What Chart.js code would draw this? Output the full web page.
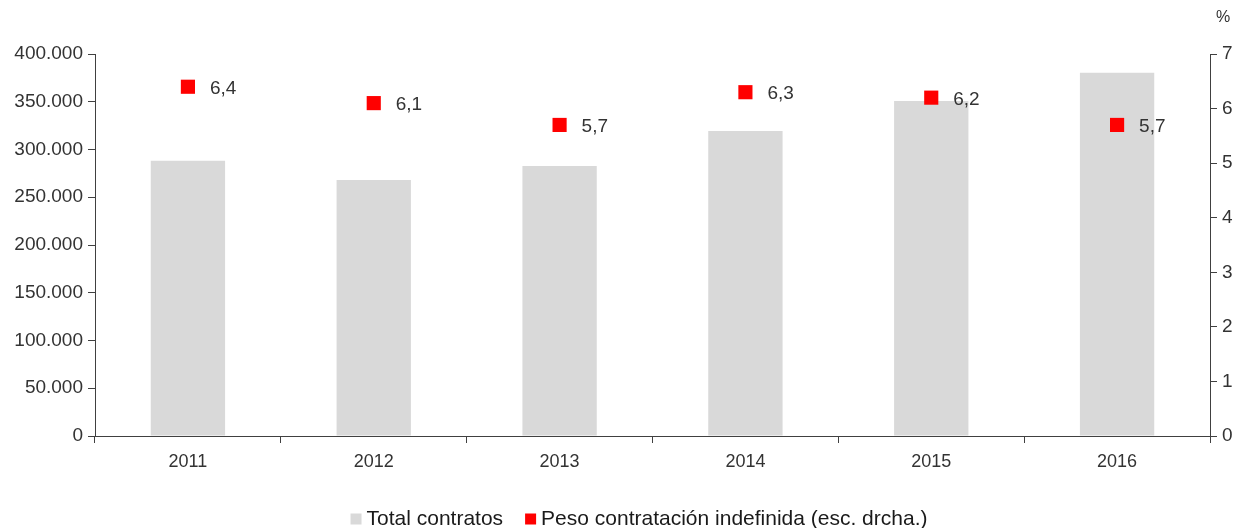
<!DOCTYPE html>
<html>
<head>
<meta charset="utf-8">
<script src="https://cdn.jsdelivr.net/npm/chart.js@4/dist/chart.umd.min.js"></script>
<style>
  html, body { margin: 0; padding: 0; background: #fff; }
  #wrap { width: 1239px; height: 528px; }
</style>
</head>
<body>
<div id="wrap"><canvas id="chart" width="1239" height="528"></canvas></div>
<script>
// data
const years = ["2011", "2012", "2013", "2014", "2015", "2016"];
const totalContratos = [288300, 268100, 282700, 319400, 350800, 380400];
const pesoIndefinida = [6.4, 6.1, 5.7, 6.3, 6.2, 5.7];

const TEXT = "#333333";
const AXIS = "#404040";
const FONT = "'Liberation Sans', Arial, sans-serif";

function fmtMiles(v) {
  return v.toString().replace(/\B(?=(\d{3})+(?!\d))/g, ".");
}

// value labels next to the red markers, "%" over the right axis, and the legend row
const labelsPlugin = {
  id: "pointLabels",
  afterDatasetsDraw(chart) {
    const ctx = chart.ctx;
    const meta = chart.getDatasetMeta(1);
    ctx.save();
    ctx.font = "19px " + FONT;
    ctx.fillStyle = TEXT;
    ctx.textAlign = "left";
    ctx.textBaseline = "middle";
    meta.data.forEach((pt, i) => {
      ctx.fillText(pesoIndefinida[i].toFixed(1).replace(".", ","), pt.x + 22, pt.y + 2);
    });
    ctx.font = "16px " + FONT;
    ctx.fillText("%", 1216, 18);

    // legend
    const items = chart.data.datasets.map(ds => ({ text: ds.label, color: ds.backgroundColor }));
    ctx.font = "21px " + FONT;
    const box = 11, gapText = 5, gapItem = 22;
    let total = 0;
    items.forEach((it, i) => {
      it.w = ctx.measureText(it.text).width;
      total += box + gapText + it.w + (i ? gapItem : 0);
    });
    let x = 639 - total / 2;
    const y = 519;
    items.forEach(it => {
      ctx.fillStyle = it.color;
      ctx.fillRect(x, y - box / 2, box, box);
      x += box + gapText;
      ctx.fillStyle = "#1a1a1a";
      ctx.fillText(it.text, x, y);
      x += it.w + gapItem;
    });
    ctx.restore();
  }
};

new Chart(document.getElementById("chart"), {
  type: "bar",
  data: {
    labels: years,
    datasets: [
      {
        label: "Total contratos",
        data: totalContratos,
        backgroundColor: "#d9d9d9",
        barPercentage: 0.4,
        categoryPercentage: 1,
        yAxisID: "y",
        order: 1
      },
      {
        type: "line",
        label: "Peso contratación indefinida (esc. drcha.)",
        data: pesoIndefinida,
        showLine: false,
        pointStyle: "rect",
        pointRadius: 10,
        pointHoverRadius: 10,
        backgroundColor: "#ff0000",
        borderColor: "#ff0000",
        borderWidth: 0,
        yAxisID: "y1",
        order: 0
      }
    ]
  },
  options: {
    responsive: false,
    animation: false,
    layout: { padding: { top: 54, left: 0, right: 0, bottom: 37 } },
    plugins: {
      tooltip: { enabled: false },
      legend: { display: false }
    },
    scales: {
      x: {
        offset: true,
        grid: { offset: true, drawOnChartArea: false, tickLength: 7, color: AXIS },
        border: { color: AXIS, width: 1 },
        ticks: { color: TEXT, font: { family: FONT, size: 18 }, padding: 8, maxRotation: 0 },
        afterFit(scale) { scale.height = 55; }
      },
      y: {
        position: "left",
        min: 0,
        max: 400000,
        grid: { drawOnChartArea: false, tickLength: 7, color: AXIS },
        border: { color: AXIS, width: 1 },
        ticks: {
          stepSize: 50000,
          color: TEXT,
          padding: 5,
          font: { family: FONT, size: 19 },
          callback: v => fmtMiles(v)
        },
        afterFit(scale) { scale.width = 95; }
      },
      y1: {
        position: "right",
        min: 0,
        max: 7,
        grid: { drawOnChartArea: false, tickLength: 7, color: AXIS },
        border: { color: AXIS, width: 1 },
        ticks: { stepSize: 1, color: TEXT, padding: 5, font: { family: FONT, size: 19 } },
        afterFit(scale) { scale.width = 29; }
      }
    }
  },
  plugins: [labelsPlugin]
});
</script>
</body>
</html>
